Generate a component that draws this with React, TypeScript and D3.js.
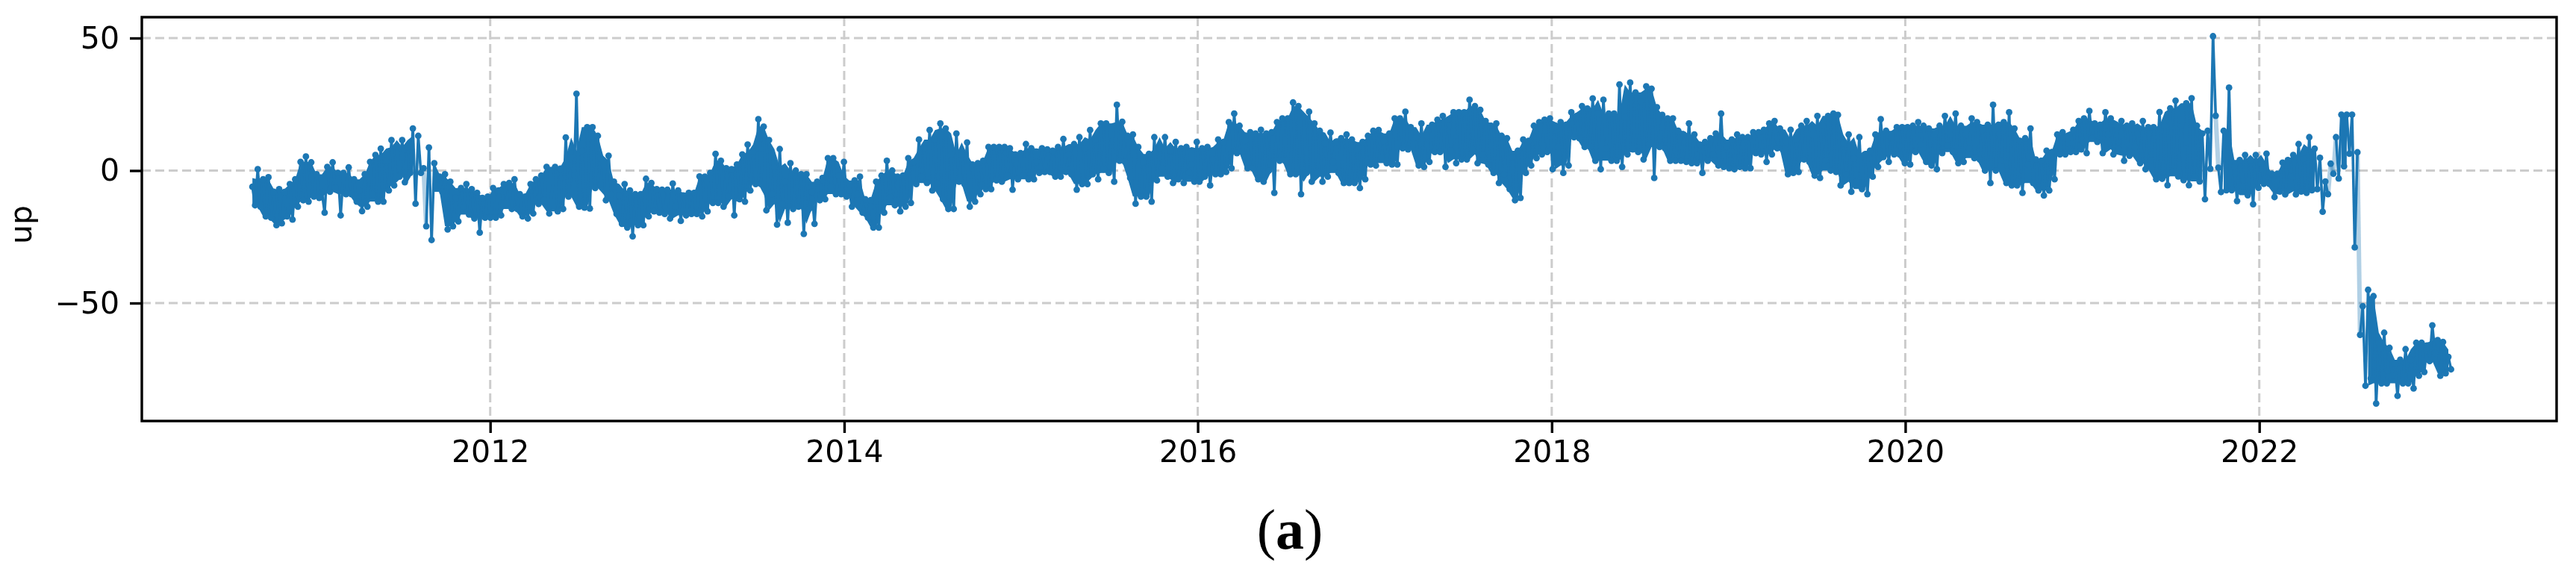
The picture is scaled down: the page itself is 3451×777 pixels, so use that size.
import React, { useEffect, useRef } from 'react'
import * as d3 from 'd3'

// values, alternating the high and low of each sample window
const upAug2010 = [-6.1,-13.1, 0.5,-13.6, -3.3,-17.3, -2.5,-17.8, -8,-20.6, -7,-19.9, -8.1,-17.3, -5.1,-18.5, -3.3,-13.6, 3.3,-11.2,
  5.3,-11.7, 3.1,-9.8, -1.4,-10.3, -8,-15.9, 1.4,-8, 3.1,-6.6, -0.9,-16.9, -0.9,-8.9, 1.2,-8.9, -3.3,-11.7,
  -7.5,-15.3, -1.4,-13.6, 3.3,-8.9, 5.9,-11.7, 8.3,-11.7, 3.7,-7.5, 11.5,-5.6, 8.9,-2.3, 11.5,-4.4, 8.9,-0.9,
  15.9,-12.5, 13.1,-0.9, 0.9,-21, 8.7,-26.2, 2.8,-5.6, -2.3,-8, -1.4,-22.2, -4.2,-21, -10.3,-19.2, -6.6,-13.6,
  -5.1,-16.6, -7,-18.1, -8.4,-23.4, -10.3,-17.8, -9.8,-17.8, -6.6,-17.8, -7.5,-16.9, -5.1,-12.6, -4.7,-14.5, -3.3,-14.5,
  -8.9,-17.3, -9.8,-18.1, -5.1,-16.2, -3.3,-12.6, -1.9,-11.2, 1.4,-16.2]
const upMay2012 = [1.4,-15.4, 0.7,-14.5, 12.5,-9.8, 5.1,-5.1, 29,-13.6, 7.5,-14, 16.4,-14.3, 16.4,-6.6, 13.1,-5.1, 3.7,-11.2,
  5.6,-8.9, -4.2,-16.4, -9.4,-20.1, -5.1,-21.5, -7.5,-24.8, -8.9,-20.6, -8.9,-20.6, -3.1,-17.3, -4.7,-15.4, -7,-15.9,
  -7.2,-16.4, -7.2,-18.1, -4.9,-13.6, -7.5,-19, -9.4,-16.9, -8.4,-16.4, -8.4,-16.4, -2.2,-17.3, -2.3,-15.4, -0.9,-12.2,
  6.3,-12.2, 3.7,-13.6, 0.9,-9.8, 0.5,-16.9, 2.3,-10.8, 6.1,-11.7, 9.8,-7.5, 7,-5.1, 19.4,-5.1, 16.6,-15,
  11.5,-8.9, 1.4,-20.4, 8.1,-12.6, -4.2,-19.7, 2.8,-14.5, 0,-13.6, -1.4,-23.9, -1.4,-14.5, -8,-20.1, -4.2,-11.2,
  -2.8,-10.8, 4.7,-6.1, 4.7,-8.9, -1.9,-8.9, 3.3,-9.8, -7.5,-13.6, -3.7,-8.9, -2.3,-15.9, -10.8,-17.8, -11.2,-21.5]
const upMar2014 = [-4.2,-21.5, -1.9,-15.9, 3.7,-10.3, 0,-13.1, -2.3,-15.4, -1.9,-13.6, 4.7,-12.2, 3.3,-5.1, 11.7,-2.3, 8.4,-4.7,
  15.3,-7.5, 11.7,-4.7, 17.8,-10.8, 15.9,-14.5, 6.1,-14.5, 14,-4.2, 6.1,-5.1, 10.6,-13.6, 2.3,-11.7, 2.8,-8.9,
  3.7,-7, 8.9,-7, 8.9,-3.7, 8.9,-4.2, 8.9,-1.9, 8.4,-7.2, 6.1,-3.3, 6.6,-1.9, 10,-3.3, 8.4,-3.3,
  3.3,-0.9, 8.4,-0.5, 8,-0.5, 7.5,-2.3, 8.9,-2.3, 11.9,-0.5, 6.1,-1.4, 10,-7.2, 12.6,-5.1, 8.4,-5.1,
  15.3,-1.4, 11.7,-3.3, 17.8,0.5, 17.8,-0.9, 13.6,-4.2, 24.8,3.7, 18.4,3.3, 13.1,-2.8, 13.6,-12.5, 8.9,-9.8,
  3.3,-9.8, 6.3,-11.7, 12.6,-3.7, 8.4,0.9, 12.6,-2.3, 7.5,-4.7, 10.8,-3.3, 8.4,-4.7, 8.9,-0.9, 2.3,-4.2]
const upDec2015 = [10.8,-4.2, 8.4,-2.3, 8.9,-5.6, 4.2,-1.4, 11.7,-1.4, 10.8,-0.5, 18.3,0.9, 21.5,6.6, 16.9,7, 11.2,0.9,
  14.5,0.9, 14,-3.3, 15.4,-4.2, 14,0, 14.5,-8.4, 18.3,3.7, 19.7,3.7, 19.7,-1.4, 25.7,-1.4, 24.3,-8.9,
  20.1,-0.9, 22.2,-4.2, 17.8,-0.9, 15,-4.2, 10.3,-2.3, 14.3,3.3, 10.8,-0.9, 12.2,-4.7, 13.6,-4.7, 11.7,-4.7,
  8,-6.6, 10.8,-3.3, 13.1,2.3, 15,1.9, 15.3,5.1, 11.2,2.8, 14,2.3, 19.7,2.3, 19.7,8.4, 22.2,8,
  16.4,12.2, 12.6,1.9, 17.8,1.4, 13.1,3.3, 17.3,7, 19.2,7, 20.6,1.4, 19.2,7.5, 22,2.8, 22,4.2,
  22,4.2, 26.7,8, 24.3,2.8, 22.9,6.1, 18.7,2.3, 16.9,-0.9, 17.8,-4.7, 13.1,-1.4, 12.2,-7, 5.1,-11.2]
const upOct2017 = [7.5,-10.3, 11.7,-0.9, 11.2,1.9, 16.9,4.7, 18.3,6.1, 19.2,7, 19.7,0.5, 16.9,8.9, 18.3,-0.9, 17.3,1.9,
  22,12.6, 20.6,12.2, 24.3,8.9, 23.4,8.9, 27.2,3.7, 21.5,0.5, 26.7,8.4, 21.5,3.7, 21.5,3.7, 32.5,1.4,
  20.1,6.1, 33.2,8, 29.5,7, 26.2,4.2, 31.8,9.8, 30.9,-2.8, 23.9,8.9, 21,8.4, 19.7,3.7, 19.7,3.7,
  15,3.7, 13.6,3.3, 17.8,2.8, 13.6,2.8, 9.8,-0.9, 10.8,3.7, 12.2,6.1, 14,1.9, 21.5,1.4, 8.9,0.9,
  11.7,0.5, 13.6,1.4, 12.6,0.9, 12.6,0.9, 14.5,6.6, 14.5,6.1, 15.4,3.3, 17.8,6.1, 18.7,8.4, 15.9,8,
  8,-1.4, 15.4,-0.9, 11.7,-0.5, 16.9,4.2, 18.7,3.3, 13.6,-1.9, 20.6,-2.8, 16.9,3.7, 20.6,0, 21.5,-0.5]
const upAug2019 = [21,-5.6, 10.3,-1.4, 13.6,-8, 4.7,-4.2, 12.6,-7, 6.1,-8.9, 7.5,-2.3, 13.6,1.4, 19.4,5.1, 15,3.3,
  12.6,6.1, 16.4,6.1, 16.4,2.8, 16.4,2.3, 16.9,7, 18.3,9.8, 16.9,3.3, 15.9,1.9, 13.6,0.5, 16.9,6.6,
  20.6,9.4, 13.6,7, 21.5,2.8, 16.9,3.3, 15,8.4, 19.7,4.7, 18.3,4.2, 15.4,0, 17.3,-4.7, 24.8,0,
  17.3,3.7, 18.3,-4.7, 22,-5.6, 15.9,-5.6, 11.2,-8.4, 12.2,2.3, 15.9,-4.7, 4.2,-7.5, 3.7,-9.4, 7.5,-7.5,
  7,-3.3, 13.6,6.1, 14.5,6.1, 10.3,7, 15.4,7, 18.7,8, 19.7,6.6, 22.5,12.2, 17.8,10.8, 17.3,6.6,
  22,13.6, 19.7,6.1, 17.3,8, 18.7,3.7, 16.9,5.6, 17.8,8.9, 14,2.8, 18.7,0.5, 16.4,3.7, 16.4,-3.3]
const upJun2021 = [22.1,-3.1, 16.9,-5.5, 23.5,-0.3, 26.4,-2.2, 16.9,-3.6, 25.4,-5.5, 27.3,-2.2, 16.9,-4.1, 14,-10.8, 15,0.7,
  50.7,20.7, 1.1,-8.1, 15,-7.4, 31.3,-7.4, 1.6,-11.5, 4,-6, 5.9,-9.3, 4,-12.7, 5.9,-6.5, 2.6,-5,
  6.4,-5, -1.2,-10, -1.2,-7.9, 3,-9, 4,-2.2, 5.9,-9, 10,-7.9, 4.5,-8.4, 12.6,-7.4, 8.3,-7,
  4.8,-15.5, -4.1,-8.9, 2.6,-1.2, 12.6,-3, 21.1,1.6, 21.1,6.4, 21.1,-29, 6.9,-62, -51.2,-81.2, -45,-78.4,
  -47.4,-87.9, -65,-80.3, -61.2,-80.3, -66.9,-77.4, -73,-85, -71.4,-80.3, -67.4,-80.3, -71.4,-82.2, -65,-77.4, -65,-76,
  -66,-71.9, -58.4,-68.8, -64,-77.4, -64.7,-76.5, -70.3,-75]

const upSeries = [upAug2010, upMay2012, upMar2014, upDec2015, upOct2017, upAug2019, upJun2021]
const seriesStarts = ['2010-08-28', '2012-05-14', '2014-03-08', '2015-12-30', '2017-10-23', '2019-08-15', '2021-06-09']
const sampleDays = 11.045

// stretches where the line comes out pale in the original
const paleSpans = [
  ['2011-08-15', '2011-08-18'],
  ['2021-10-01', '2021-10-05'],
  ['2022-05-22', '2022-06-05'],
  ['2022-07-21', '2022-07-24'],
]

const yearTicks = ['2012-01-01', '2014-01-01', '2016-01-01', '2018-01-01', '2020-01-01', '2022-01-01']
const upTicks = [-50, 0, 50]

const width = 3451
const height = 777
const plot = { left: 190, right: 3425, top: 23, bottom: 564 }
const blue = '#1f77b4'
const sans = '"DejaVu Sans", sans-serif'

export default function App() {
    const svgRef = useRef<SVGSVGElement>(null)

    useEffect(() => {
        if (!svgRef.current) return

        const svg = d3.select(svgRef.current)
        svg.selectAll("*").remove()

        svg.append("defs").append("filter")
            .attr("id", "soft")
            .attr("x", 0).attr("y", 0)
            .attr("width", "100%").attr("height", "100%")
            .append("feGaussianBlur")
            .attr("stdDeviation", 0.6)

        const x = d3.scaleTime()
            .domain([new Date('2012-01-01'), new Date('2022-01-01')])
            .range([656.7, 3026.7])

        const y = d3.scaleLinear()
            .domain([-50, 50])
            .range([406, 51])

        const points = upSeries.flatMap((values, s) => {
            const start = +new Date(seriesStarts[s])
            return values.map((up, i) => ({ date: new Date(start + (i / 2) * sampleDays * 864e5), up }))
        })
        const links = d3.pairs(points)
        const isPale = (d: Date) => paleSpans.some(([a, b]) => d >= new Date(a) && d <= new Date(b))

        // the body of the band: median of the neighbouring highs and lows, so lone spikes stay thin
        const columns = d3.range(0, points.length, 2).map(i => ({ date: points[i].date, hi: points[i].up, lo: points[i + 1].up }))
        const core = columns.map((c, i) => {
            const around = columns.slice(Math.max(0, i - 1), i + 2)
            const top = d3.median(around, d => d.hi)!
            const bottom = d3.median(around, d => d.lo)!
            const open = around.some(d => isPale(d.date) || isPale(new Date(+d.date + sampleDays * 432e5)))
            return { date: c.date, top, bottom, open: open || top - bottom > 40 }
        })

        const g = svg.append("g").attr("filter", "url(#soft)")

        g.append("rect")
            .attr("width", width)
            .attr("height", height)
            .attr("fill", "#fff")

        // Grid
        const grid = g.append("g")
            .attr("stroke", "#cccccc")
            .attr("stroke-width", 3)
            .attr("stroke-dasharray", "12 6")
        grid.selectAll(".gx")
            .data(yearTicks)
            .enter().append("line")
            .attr("x1", d => x(new Date(d)))
            .attr("x2", d => x(new Date(d)))
            .attr("y1", plot.top)
            .attr("y2", plot.bottom)
        grid.selectAll(".gy")
            .data(upTicks)
            .enter().append("line")
            .attr("x1", plot.left)
            .attr("x2", plot.right)
            .attr("y1", d => y(d))
            .attr("y2", d => y(d))

        // Series
        const band = d3.area<{ date: Date; top: number; bottom: number; open: boolean }>()
            .defined(d => !d.open && d.top > d.bottom)
            .x(d => x(d.date))
            .y0(d => y(d.bottom))
            .y1(d => y(d.top))
        g.append("path")
            .attr("d", band(core))
            .attr("fill", blue)

        g.append("g").selectAll("line")
            .data(links)
            .enter().append("line")
            .attr("x1", d => x(d[0].date))
            .attr("y1", d => y(d[0].up))
            .attr("x2", d => x(d[1].date))
            .attr("y2", d => y(d[1].up))
            .attr("stroke", blue)
            .attr("stroke-width", d => isPale(d[0].date) ? 6 : 3.6)
            .attr("stroke-opacity", d => isPale(d[0].date) ? 0.35 : 1)

        g.append("g").selectAll("circle")
            .data(points)
            .enter().append("circle")
            .attr("cx", d => x(d.date))
            .attr("cy", d => y(d.up))
            .attr("r", 4.4)
            .attr("fill", blue)

        // Frame
        g.append("rect")
            .attr("x", plot.left)
            .attr("y", plot.top)
            .attr("width", plot.right - plot.left)
            .attr("height", plot.bottom - plot.top)
            .attr("fill", "none")
            .attr("stroke", "#000")
            .attr("stroke-width", 3.4)

        // Axes
        const xAxis = g.append("g")
            .attr("transform", `translate(0,${plot.bottom})`)
            .call(d3.axisBottom(x)
                .tickValues(yearTicks.map(d => new Date(d)))
                .tickFormat(d3.timeFormat("%Y") as any)
                .tickSize(16)
                .tickPadding(10))
        const yAxis = g.append("g")
            .attr("transform", `translate(${plot.left},0)`)
            .call(d3.axisLeft(y)
                .tickValues(upTicks)
                .tickFormat(d => String(d).replace('-', '\u2212'))
                .tickSize(16)
                .tickPadding(14))
        for (const axis of [xAxis, yAxis]) {
            axis.select(".domain").remove()
            axis.selectAll(".tick line").attr("stroke", "#000").attr("stroke-width", 3.4)
            axis.selectAll("text").attr("font-family", sans).attr("font-size", 41).attr("fill", "#000")
        }

        g.append("text")
            .attr("transform", "translate(42,301) rotate(-90)")
            .attr("text-anchor", "middle")
            .attr("font-family", sans)
            .attr("font-size", 41)
            .attr("fill", "#000")
            .text("up")

        const caption = svg.append("text")
            .attr("x", 1728)
            .attr("y", 735)
            .attr("text-anchor", "middle")
            .attr("font-family", '"Liberation Serif", serif')
            .attr("font-size", 76)
            .attr("fill", "#000")
        caption.append("tspan").text("(")
        caption.append("tspan").attr("font-weight", "bold").text("a")
        caption.append("tspan").text(")")
    }, [])

    return (
        <svg
            ref={svgRef}
            width={width}
            height={height}
            viewBox={`0 0 ${width} ${height}`}
            style={{ position: 'absolute', left: 0, top: 0, display: 'block', background: '#fff' }}
        />
    )
}
